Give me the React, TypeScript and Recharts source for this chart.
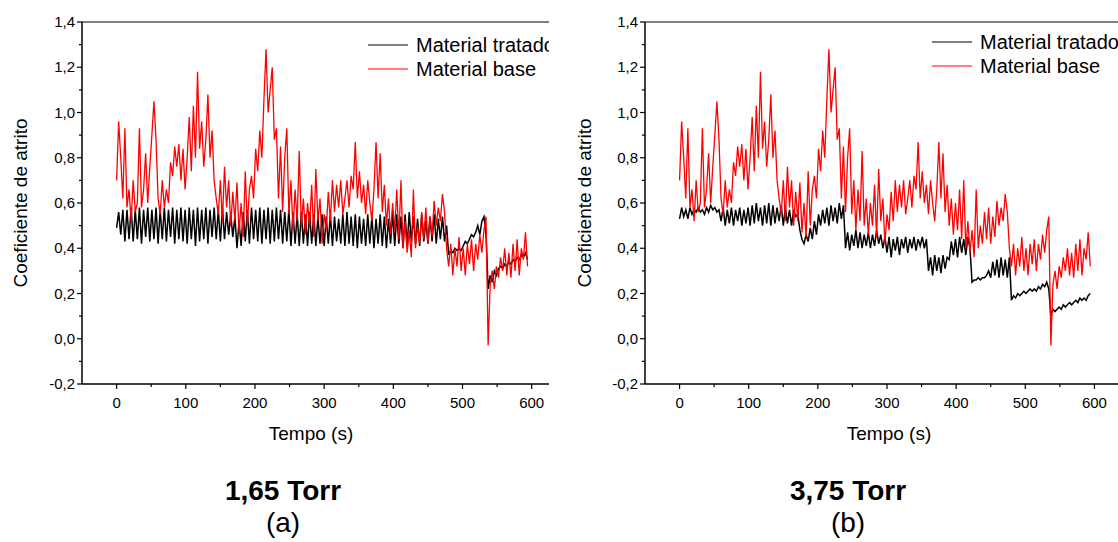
import React from "react";
import { LineChart, Line, XAxis, YAxis, ReferenceLine } from "recharts";

// sampling interval of the friction traces (s)
const SAMPLE_STEP = 3;

// Material base (same sample in both tests)
const baseMaterial = [
  0.70, 0.96, 0.80, 0.62, 0.93, 0.58, 0.66, 0.52, 0.70, 0.56,
  0.60, 0.93, 0.58, 0.66, 0.82, 0.60, 0.76, 0.90, 1.05, 0.88,
  0.62, 0.55, 0.70, 0.58, 0.66, 0.60, 0.78, 0.72, 0.85, 0.76,
  0.86, 0.70, 0.84, 0.66, 0.80, 0.98, 0.74, 1.03, 0.80, 1.18,
  0.84, 0.96, 0.76, 0.88, 1.08, 0.80, 0.92, 0.70, 0.62, 0.55,
  0.70, 0.52, 0.76, 0.58, 0.70, 0.50, 0.65, 0.52, 0.69, 0.47,
  0.60, 0.45, 0.74, 0.50, 0.66, 0.72, 0.62, 0.84, 0.74, 0.92,
  0.80, 1.06, 1.28, 1.00, 1.10, 1.20, 0.88, 0.93, 0.62, 0.85,
  0.56, 0.80, 0.93, 0.55, 0.70, 0.48, 0.66, 0.52, 0.83, 0.50,
  0.62, 0.46, 0.60, 0.50, 0.68, 0.45, 0.75, 0.52, 0.62, 0.42,
  0.55, 0.48, 0.65, 0.52, 0.70, 0.56, 0.68, 0.58, 0.70, 0.55,
  0.62, 0.70, 0.58, 0.72, 0.66, 0.87, 0.62, 0.74, 0.60, 0.68,
  0.55, 0.70, 0.60, 0.52, 0.66, 0.87, 0.62, 0.82, 0.56, 0.68,
  0.50, 0.62, 0.46, 0.60, 0.48, 0.66, 0.44, 0.70, 0.40, 0.52,
  0.38, 0.48, 0.36, 0.66, 0.40, 0.50, 0.42, 0.56, 0.44, 0.58,
  0.42, 0.54, 0.45, 0.61, 0.50, 0.58, 0.52, 0.64, 0.56, 0.40,
  0.32, 0.42, 0.28, 0.40, 0.32, 0.45, 0.30, 0.40, 0.28, 0.42,
  0.33, 0.44, 0.30, 0.42, 0.35, 0.46, 0.38, 0.48, 0.54, -0.03,
  0.24, 0.30, 0.22, 0.32, 0.27, 0.36, 0.30, 0.40, 0.28, 0.38,
  0.27, 0.42, 0.30, 0.44, 0.28, 0.40, 0.35, 0.47, 0.32,
];

// Material tratado, 1,65 Torr
const treated165 = [
  0.49, 0.56, 0.46, 0.57, 0.43, 0.57, 0.44, 0.58, 0.43, 0.57,
  0.44, 0.58, 0.42, 0.57, 0.45, 0.58, 0.43, 0.57, 0.44, 0.58,
  0.42, 0.57, 0.44, 0.58, 0.43, 0.57, 0.45, 0.58, 0.42, 0.57,
  0.44, 0.58, 0.43, 0.57, 0.42, 0.58, 0.44, 0.57, 0.41, 0.58,
  0.43, 0.57, 0.44, 0.58, 0.42, 0.57, 0.45, 0.58, 0.44, 0.57,
  0.43, 0.58, 0.44, 0.56, 0.46, 0.55, 0.45, 0.54, 0.40, 0.52,
  0.41, 0.56, 0.43, 0.57, 0.42, 0.58, 0.44, 0.57, 0.43, 0.58,
  0.42, 0.57, 0.44, 0.58, 0.42, 0.57, 0.43, 0.58, 0.44, 0.57,
  0.42, 0.56, 0.43, 0.57, 0.41, 0.56, 0.42, 0.55, 0.41, 0.56,
  0.42, 0.55, 0.41, 0.56, 0.42, 0.55, 0.41, 0.54, 0.42, 0.55,
  0.41, 0.54, 0.42, 0.55, 0.41, 0.54, 0.43, 0.53, 0.42, 0.55,
  0.41, 0.56, 0.42, 0.54, 0.41, 0.55, 0.40, 0.54, 0.42, 0.53,
  0.41, 0.55, 0.42, 0.54, 0.40, 0.53, 0.42, 0.55, 0.41, 0.54,
  0.40, 0.53, 0.42, 0.56, 0.41, 0.55, 0.42, 0.54, 0.40, 0.55,
  0.41, 0.56, 0.43, 0.54, 0.42, 0.53, 0.41, 0.55, 0.43, 0.52,
  0.42, 0.54, 0.43, 0.55, 0.42, 0.53, 0.44, 0.54, 0.43, 0.50,
  0.37, 0.39, 0.38, 0.40, 0.39, 0.40, 0.39, 0.41, 0.43, 0.42,
  0.44, 0.46, 0.45, 0.47, 0.50, 0.46, 0.52, 0.54, 0.46, 0.22,
  0.28, 0.25, 0.30, 0.28, 0.31, 0.32, 0.31, 0.33, 0.32, 0.34,
  0.33, 0.35, 0.34, 0.36, 0.35, 0.37, 0.36, 0.38, 0.35,
];

// Material tratado, 3,75 Torr
const treated375 = [
  0.53, 0.58, 0.54, 0.57, 0.53, 0.58, 0.55, 0.57, 0.56, 0.58,
  0.56, 0.57, 0.55, 0.58, 0.56, 0.59, 0.57, 0.58, 0.56, 0.57,
  0.52, 0.58, 0.50, 0.57, 0.51, 0.58, 0.50, 0.57, 0.52, 0.58,
  0.50, 0.57, 0.51, 0.58, 0.50, 0.59, 0.51, 0.60, 0.52, 0.58,
  0.50, 0.59, 0.51, 0.60, 0.50, 0.59, 0.51, 0.58, 0.52, 0.59,
  0.50, 0.58, 0.51, 0.57, 0.50, 0.57, 0.54, 0.55, 0.48, 0.44,
  0.42, 0.46, 0.43, 0.49, 0.44, 0.52, 0.46, 0.55, 0.50, 0.57,
  0.51, 0.58, 0.50, 0.59, 0.52, 0.58, 0.51, 0.60, 0.53, 0.59,
  0.40, 0.47, 0.39, 0.46, 0.41, 0.48, 0.40, 0.47, 0.40, 0.46,
  0.41, 0.47, 0.40, 0.46, 0.41, 0.48, 0.42, 0.46, 0.40, 0.45,
  0.38, 0.45, 0.36, 0.44, 0.39, 0.45, 0.37, 0.44, 0.40, 0.45,
  0.38, 0.44, 0.40, 0.45, 0.39, 0.44, 0.41, 0.45, 0.40, 0.44,
  0.30, 0.36, 0.28, 0.37, 0.30, 0.36, 0.29, 0.37, 0.31, 0.36,
  0.35, 0.43, 0.37, 0.44, 0.36, 0.45, 0.38, 0.44, 0.37, 0.45,
  0.40, 0.25, 0.26, 0.26, 0.27, 0.26, 0.27, 0.27, 0.28, 0.30,
  0.27, 0.34, 0.28, 0.35, 0.27, 0.36, 0.28, 0.35, 0.27, 0.36,
  0.17, 0.19, 0.18, 0.20, 0.19, 0.20, 0.21, 0.20, 0.21, 0.22,
  0.21, 0.22, 0.21, 0.23, 0.22, 0.24, 0.23, 0.25, 0.22, 0.10,
  0.13, 0.12, 0.13, 0.14, 0.13, 0.15, 0.14, 0.15, 0.16, 0.15,
  0.16, 0.17, 0.16, 0.18, 0.17, 0.18, 0.17, 0.19, 0.20,
];

const xTicks = [0, 50, 100, 150, 200, 250, 300, 350, 400, 450, 500, 550, 600];
const yTicks = [-0.2, -0.1, 0, 0.1, 0.2, 0.3, 0.4, 0.5, 0.6, 0.7, 0.8, 0.9, 1.0, 1.1, 1.2, 1.3, 1.4];

const FONT = "Arial, 'Liberation Sans', sans-serif";

const time = baseMaterial.map((_, i) => i * SAMPLE_STEP);
const rows165 = time.map((t, i) => ({ t, base: baseMaterial[i], treated: treated165[i] }));
const rows375 = time.map((t, i) => ({ t, base: baseMaterial[i], treated: treated375[i] }));

const fmt = (v: number) => v.toFixed(1).replace(".", ",");

const YTick = (props: any) => {
  const { x, y, payload } = props;
  const v = payload.value;
  const major = Math.round(v * 10) % 2 === 0;
  return (
    <g>
      <line x1={x - (major ? 5 : 3)} x2={x} y1={y} y2={y} stroke="#000" strokeWidth={1.2} />
      {major && (
        <text x={x - 7} y={y} dy={5} textAnchor="end" fontSize={15} fontFamily={FONT} fill="#000">
          {fmt(v)}
        </text>
      )}
    </g>
  );
};

const XTick = (props: any) => {
  const { x, y, payload } = props;
  const v = payload.value;
  const major = v % 100 === 0;
  return (
    <g>
      <line x1={x} x2={x} y1={y} y2={y + (major ? 5 : 3)} stroke="#000" strokeWidth={1.2} />
      {major && (
        <text x={x} y={y + 24} textAnchor="middle" fontSize={15} fontFamily={FONT} fill="#000">
          {v}
        </text>
      )}
    </g>
  );
};

interface PanelProps {
  left: number;
  width: number;
  chartWidth: number;
  domainMax: number;
  rows: { t: number; base: number; treated: number }[];
  legendX: number;
  legendY: number;
}

const Panel: React.FC<PanelProps> = ({ left, width, chartWidth, domainMax, rows, legendX, legendY }) => (
  <div style={{ position: "absolute", left, top: 0, width, height: 542, overflow: "hidden" }}>
    <LineChart width={chartWidth} height={542} data={rows} margin={{ top: 22, right: 0, bottom: 98, left: 0 }}>
      <XAxis
        dataKey="t"
        type="number"
        domain={[-50, domainMax]}
        ticks={xTicks}
        interval={0}
        tickSize={0}
        tickMargin={0}
        tickLine={false}
        tick={<XTick />}
        stroke="#000"
        strokeWidth={1.5}
        height={60}
        allowDataOverflow
      />
      <YAxis
        type="number"
        domain={[-0.2, 1.4]}
        ticks={yTicks}
        interval={0}
        width={82}
        tickSize={0}
        tickMargin={0}
        tickLine={false}
        tick={<YTick />}
        stroke="#000"
        strokeWidth={1.5}
        allowDataOverflow
      />
      <ReferenceLine y={1.4} stroke="#000" strokeWidth={1} />
      <Line type="linear" dataKey="treated" stroke="#000000" strokeWidth={1.5} dot={false} isAnimationActive={false} />
      <Line type="linear" dataKey="base" stroke="#ff0000" strokeWidth={1.3} dot={false} isAnimationActive={false} />
    </LineChart>
    <svg width={width} height={120} style={{ position: "absolute", left: 0, top: 0, pointerEvents: "none" }}>
      <line x1={legendX} x2={legendX + 40} y1={legendY} y2={legendY} stroke="#000" strokeWidth={1} />
      <text x={legendX + 48} y={legendY + 7} fontSize={20} fontFamily={FONT} fill="#000">Material tratado</text>
      <line x1={legendX} x2={legendX + 40} y1={legendY + 24} y2={legendY + 24} stroke="#ff0000" strokeWidth={1} />
      <text x={legendX + 48} y={legendY + 31} fontSize={20} fontFamily={FONT} fill="#000">Material base</text>
    </svg>
  </div>
);

export default function App() {
  return (
    <div style={{ position: "absolute", left: 0, top: 0, width: 1118, height: 542, background: "#fff", overflow: "hidden" }}>
      <Panel left={0} width={549} chartWidth={549} domainMax={625} rows={rows165} legendX={368} legendY={45} />
      <Panel left={563} width={555} chartWidth={566} domainMax={650} rows={rows375} legendX={369} legendY={42} />
      <svg width={1118} height={542} style={{ position: "absolute", left: 0, top: 0, pointerEvents: "none" }}>
        <text x={20} y={203} transform="rotate(-90 20 203)" dy={7} textAnchor="middle" fontSize={19} fontFamily={FONT} fill="#000">
          Coeficiente de atrito
        </text>
        <text x={311} y={440} textAnchor="middle" fontSize={19} fontFamily={FONT} fill="#000">Tempo (s)</text>
        <text x={283} y={500} textAnchor="middle" fontSize={28} fontWeight="bold" fontFamily={FONT} fill="#000">1,65 Torr</text>
        <text x={283} y={532} textAnchor="middle" fontSize={28} fontFamily={FONT} fill="#000">(a)</text>

        <text x={584} y={203} transform="rotate(-90 584 203)" dy={7} textAnchor="middle" fontSize={19} fontFamily={FONT} fill="#000">
          Coeficiente de atrito
        </text>
        <text x={889} y={440} textAnchor="middle" fontSize={19} fontFamily={FONT} fill="#000">Tempo (s)</text>
        <text x={848} y={500} textAnchor="middle" fontSize={28} fontWeight="bold" fontFamily={FONT} fill="#000">3,75 Torr</text>
        <text x={848} y={532} textAnchor="middle" fontSize={28} fontFamily={FONT} fill="#000">(b)</text>
      </svg>
    </div>
  );
}
